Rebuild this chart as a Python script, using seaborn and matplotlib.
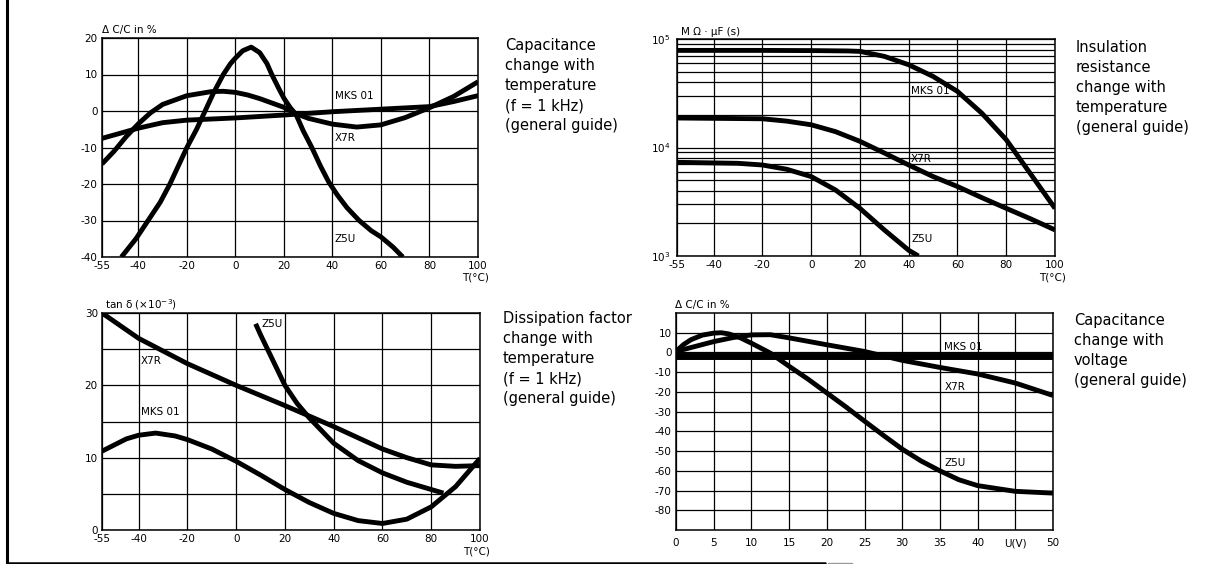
import matplotlib
matplotlib.use("Agg")
import matplotlib.pyplot as plt
from matplotlib.lines import Line2D
from matplotlib.ticker import LogLocator, NullFormatter
import numpy as np
import seaborn as sns

# top left: capacitance change with temperature (%)
t1_mks_T = [-55, -40, -30, -20, 0, 20, 40, 60, 80, 90, 100]
t1_mks_v = [-7.5, -4.7, -3.2, -2.5, -1.9, -1.1, -0.2, 0.5, 1.2, 2.6, 4.2]
t1_x7r_T = [-55, -50, -45, -40, -35, -30, -20, -10, -5, 0, 5, 10, 20, 25, 30, 40, 50, 60, 70, 80, 90, 100]
t1_x7r_v = [-14.5, -11, -7, -3.5, -0.5, 1.8, 4.2, 5.3, 5.4, 5.1, 4.4, 3.4, 1, -0.7, -2, -3.6, -4.4, -3.8, -1.8, 0.9, 4, 8]
t1_z5u_T = [-47, -41, -36, -31, -27, -23.5, -20, -16, -12.5, -9, -5, -2, 0, 3, 6.5, 10, 13, 15, 18, 20,
            22.5, 25, 28, 31.5, 35, 38.5, 42, 46, 51, 56, 60, 65, 69]
t1_z5u_v = [-40, -35, -30, -25, -20, -15, -10, -5, 0, 5, 10, 13, 14.5, 16.5, 17.5, 16, 13, 10, 6, 3.5,
            1, -1, -5.5, -10, -15, -19.5, -23, -26.5, -30, -32.8, -34.5, -37.3, -40]

# top right: insulation resistance (MOhm * uF)
t2_mks_T = [-55, -20, 0, 15, 20, 30, 40, 50, 60, 70, 80, 90, 100]
t2_mks_v = [78500, 78500, 78200, 77600, 76900, 69200, 57900, 45200, 32900, 20700, 11800, 5700, 2750]
t2_x7r_T = [-55, -20, -10, 0, 10, 20, 30, 40, 50, 60, 70, 80, 90, 100]
t2_x7r_v = [18700, 18400, 17500, 16200, 14000, 11400, 8900, 6900, 5400, 4370, 3450, 2750, 2200, 1740]
t2_z5u_T = [-55, -30, -20, -10, 0, 10, 20, 30, 40, 44]
t2_z5u_v = [7300, 7150, 6900, 6300, 5400, 4060, 2750, 1740, 1130, 1000]

# bottom left: dissipation factor tan d (x 10^-3)
t3_x7r_T = [-55, -40, -20, 0, 20, 40, 60, 70, 80, 90, 100]
t3_x7r_v = [30, 26.5, 23, 20, 17.2, 14.3, 11.2, 10, 9, 8.8, 8.9]
t3_z5u_T = [8, 10, 15, 20, 25, 30, 40, 50, 60, 70, 80, 85]
t3_z5u_v = [28.5, 27, 23.5, 20, 17.5, 15.5, 12, 9.6, 7.9, 6.6, 5.6, 5.1]
t3_mks_T = [-55, -45, -40, -33, -25, -20, -10, 0, 10, 20, 30, 40, 50, 60, 70, 80, 90, 100]
t3_mks_v = [10.9, 12.6, 13.1, 13.4, 13, 12.5, 11.2, 9.5, 7.6, 5.6, 3.8, 2.3, 1.3, 0.9, 1.5, 3.2, 6, 9.9]

# bottom right: capacitance change with voltage (%)
t4_mks_U = [0, 50]
t4_mks_v = [-2, -2]
t4_x7r_U = [0, 2.5, 5, 7.5, 10, 12.5, 15, 20, 25, 30, 35, 40, 45, 50]
t4_x7r_v = [0.5, 3, 5.5, 7.5, 8.9, 9, 7.4, 3.9, 0.5, -4, -7.6, -10.9, -15.5, -21.8]
t4_z5u_U = [0, 1, 2, 3.5, 5, 6, 7, 8.5, 10, 12.5, 15, 17.5, 20, 22.5, 25, 27.5, 30, 32.5, 35, 37.5, 40, 45, 50]
t4_z5u_v = [0.5, 4, 6.5, 8.8, 9.8, 10, 9.4, 7.5, 4.7, -0.3, -7, -13.5, -20.5, -27.5, -34.8, -42, -49, -55,
            -60, -64.5, -67.5, -70.4, -71.3]

temp_ticks = [-55, -40, -20, 0, 20, 40, 60, 80, 100]
volt_ticks = [0, 5, 10, 15, 20, 25, 30, 35, 40, 45, 50]
volt_labels = ["0", "5", "10", "15", "20", "25", "30", "35", "40", "U(V)", "50"]

sns.set_style("white")
plt.rcParams["font.family"] = ["DejaVu Sans"]
plt.rcParams["axes.unicode_minus"] = False

W, H = 1222, 564
fig = plt.figure(figsize=(W / 100, H / 100), dpi=100)


def px(x, y):
    return x / W, 1 - y / H


def make_axes(x0, y0, x1, y1):
    ax = fig.add_axes([x0 / W, 1 - y1 / H, (x1 - x0) / W, (y1 - y0) / H])
    for s in ax.spines.values():
        s.set_color("black")
        s.set_linewidth(1.1)
    ax.tick_params(length=0, pad=3, labelsize=7.5, colors="black")
    ax.grid(True, color="black", lw=0.9)
    ax.set_axisbelow(True)
    return ax


def curve(ax, x, y, lw=3.5):
    sns.lineplot(x=x, y=y, ax=ax, color="black", lw=lw, sort=False,
                 solid_capstyle="butt", solid_joinstyle="round")


side_kw = dict(ha="left", va="top", fontsize=10.5, linespacing=1.42, color="black")
small = dict(fontsize=7.5, color="black")

# panel 1
ax1 = make_axes(102, 38, 478, 257)
curve(ax1, t1_mks_T, t1_mks_v)
curve(ax1, t1_x7r_T, t1_x7r_v)
curve(ax1, t1_z5u_T, t1_z5u_v)
ax1.set_xlim(-55, 100)
ax1.set_ylim(-40, 20)
ax1.set_xticks(temp_ticks)
ax1.set_yticks([-40, -30, -20, -10, 0, 10, 20])
ax1.text(41, 3.2, "MKS 01", **small)
ax1.text(41, -8.3, "X7R", **small)
ax1.text(41, -36, "Z5U", **small)
fig.text(*px(102, 30), "Δ C/C in %", ha="left", va="center", **small)
fig.text(*px(489, 277), "T(°C)", ha="right", va="center", **small)
fig.text(*px(505, 38), "Capacitance\nchange with\ntemperature\n(f = 1 kHz)\n(general guide)", **side_kw)

# panel 2
ax2 = make_axes(677, 39, 1055, 256)
curve(ax2, t2_mks_T, t2_mks_v)
curve(ax2, t2_x7r_T, t2_x7r_v)
curve(ax2, t2_z5u_T, t2_z5u_v)
ax2.set_yscale("log")
ax2.set_xlim(-55, 100)
ax2.set_ylim(1e3, 1e5)
ax2.set_xticks(temp_ticks)
ax2.set_yticks([1e3, 1e4, 1e5])
ax2.set_yticklabels(["$10^3$", "$10^4$", "$10^5$"])
ax2.yaxis.set_minor_locator(LogLocator(base=10, subs=np.arange(2, 10)))
ax2.yaxis.set_minor_formatter(NullFormatter())
ax2.tick_params(which="minor", length=0)
ax2.tick_params(axis="y", pad=5)
ax2.grid(True, which="minor", axis="y", color="black", lw=0.9)
ax2.text(41, 33500, "MKS 01", va="center", **small)
ax2.text(41, 7800, "X7R", va="center", **small)
ax2.text(41, 1420, "Z5U", va="center", **small)
fig.text(*px(681, 32), "M Ω · µF (s)", ha="left", va="center", **small)
fig.text(*px(1066, 277), "T(°C)", ha="right", va="center", **small)
fig.text(*px(1076, 40), "Insulation\nresistance\nchange with\ntemperature\n(general guide)", **side_kw)

# panel 3
ax3 = make_axes(102, 313, 480, 530)
curve(ax3, t3_x7r_T, t3_x7r_v)
curve(ax3, t3_z5u_T, t3_z5u_v)
curve(ax3, t3_mks_T, t3_mks_v)
ax3.set_xlim(-55, 100)
ax3.set_ylim(0, 30)
ax3.set_xticks(temp_ticks)
ax3.set_yticks([0, 5, 10, 15, 20, 25, 30])
ax3.set_yticklabels(["0", "", "10", "", "20", "", "30"])
ax3.text(10.5, 28.5, "Z5U", va="center", **small)
ax3.text(-39, 23.3, "X7R", va="center", **small)
ax3.text(-39, 16.3, "MKS 01", va="center", **small)
fig.text(*px(105, 305), "tan δ (×10$^{-3}$)", ha="left", va="center", **small)
fig.text(*px(490, 551), "T(°C)", ha="right", va="center", **small)
fig.text(*px(503, 311), "Dissipation factor\nchange with\ntemperature\n(f = 1 kHz)\n(general guide)", **side_kw)

# panel 4
ax4 = make_axes(676, 313, 1053, 530)
curve(ax4, t4_mks_U, t4_mks_v, lw=5)
curve(ax4, t4_x7r_U, t4_x7r_v)
curve(ax4, t4_z5u_U, t4_z5u_v)
ax4.set_xlim(0, 50)
ax4.set_ylim(-90, 20)
ax4.set_xticks(volt_ticks)
ax4.set_xticklabels(volt_labels)
ax4.set_yticks([-80, -70, -60, -50, -40, -30, -20, -10, 0, 10])
ax4.tick_params(axis="x", pad=6)
ax4.text(35.5, 3, "MKS 01", va="center", **small)
ax4.text(35.6, -17.6, "X7R", va="center", **small)
ax4.text(35.6, -55.8, "Z5U", va="center", **small)
fig.text(*px(675, 305), "Δ C/C in %", ha="left", va="center", **small)
fig.text(*px(1074, 313), "Capacitance\nchange with\nvoltage\n(general guide)", **side_kw)

# page frame
fig.add_artist(Line2D([7 / W, 7 / W], [1, 1 - 563 / H], color="black", lw=2.2))
fig.add_artist(Line2D([7 / W, 825 / W], [1 - 563 / H] * 2, color="black", lw=1.8))
fig.add_artist(Line2D([828 / W, 852 / W], [1 - 563 / H] * 2, color="0.6", lw=1.0))

fig.savefig("out.png", dpi=100)
